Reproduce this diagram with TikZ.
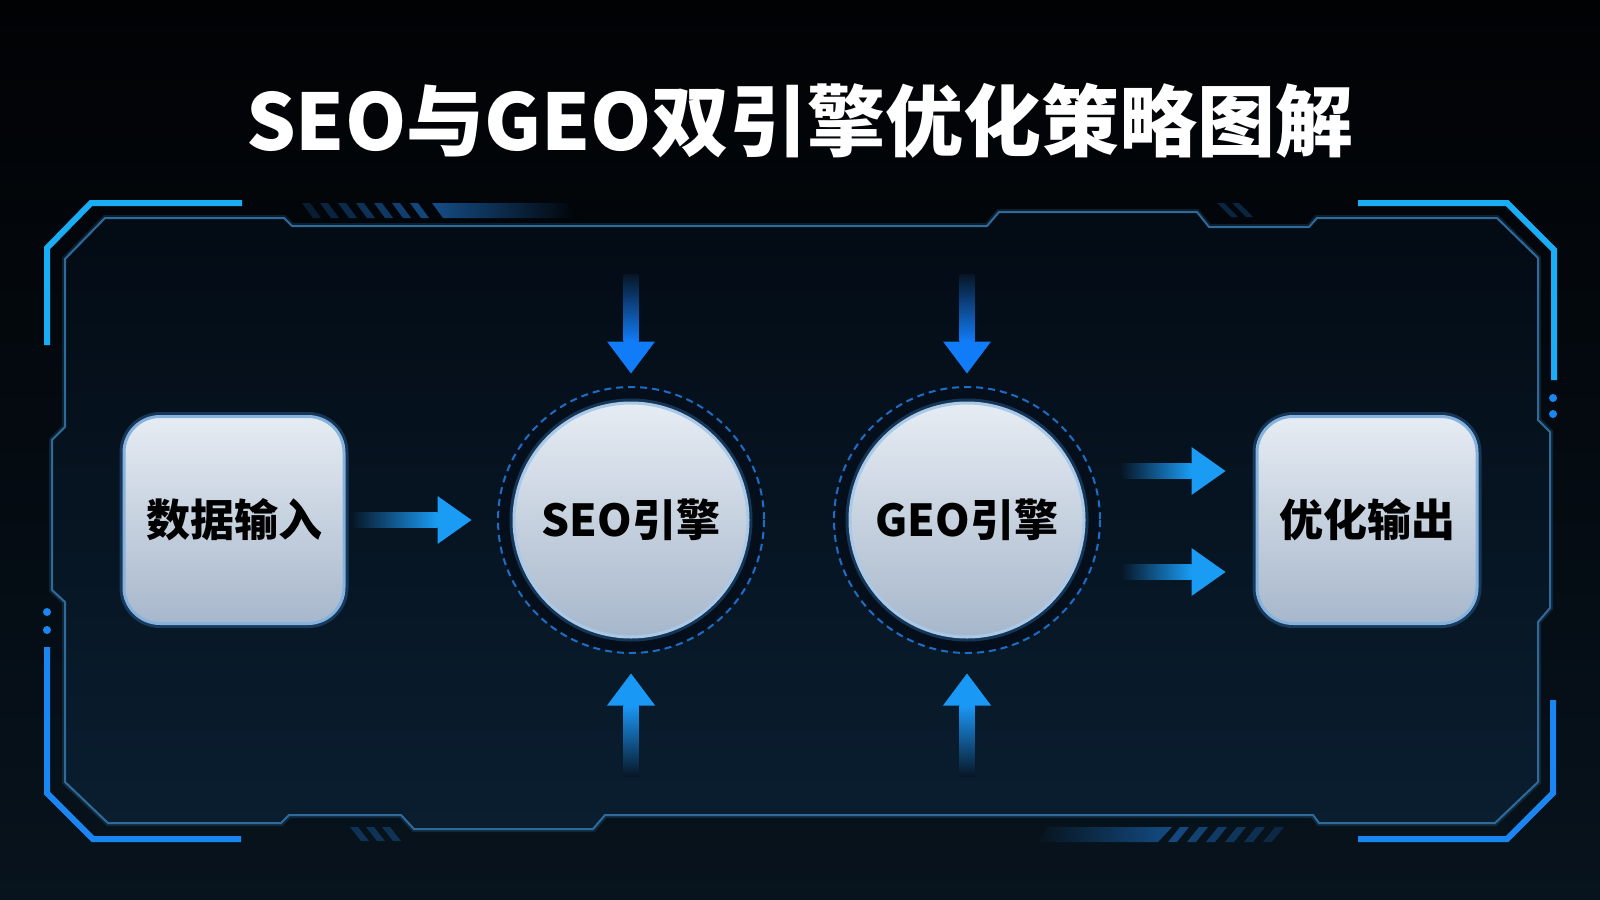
\documentclass[tikz,border=0pt]{standalone}
\usepackage{fontspec}
\setmainfont{Noto Sans CJK SC}
\usetikzlibrary{calc}
\definecolor{bgtop}{HTML}{010204}
\definecolor{bgbot}{HTML}{07131D}
\definecolor{paneltop}{HTML}{030B14}
\definecolor{panelbot}{HTML}{0A1E30}
\definecolor{frameline}{HTML}{2E6B9B}
\definecolor{brightA}{HTML}{18ADF4}
\definecolor{brightB}{HTML}{1A86F2}
\definecolor{hatch}{HTML}{185A9E}
\definecolor{arrD}{HTML}{117CF7}
\definecolor{arrU}{HTML}{1A98F6}
\definecolor{arrR}{HTML}{1A9CF5}
\definecolor{arrbg}{HTML}{071626}
\definecolor{cardtop}{HTML}{E6ECF3}
\definecolor{cardbot}{HTML}{A7B7CB}
\definecolor{cardedge}{HTML}{86B2DE}
\definecolor{cardglow}{HTML}{2A64A0}
\definecolor{ring}{HTML}{1D6DC6}
\definecolor{halo}{HTML}{040F1B}
\newcommand\myArrR[2]{%
  \shade[left color=arrbg,right color=arrR] ($(#1)+(0,-7.5)$) rectangle ($(#2)+(-34,7.5)$);
  \fill[arrR] ($(#2)+(-34,-24)$) -- (#2) -- ($(#2)+(-34,24)$) -- cycle;}
\newcommand\myArrD[2]{%
  \shade[top color=arrbg,bottom color=arrD] ($(#1)+(-7.5,0)$) rectangle ($(#2)+(7.5,-32)$);
  \fill[arrD] ($(#2)+(-24,-32)$) -- (#2) -- ($(#2)+(24,-32)$) -- cycle;}
\newcommand\myArrU[2]{%
  \shade[bottom color=arrbg,top color=arrU] ($(#1)+(-7.5,0)$) rectangle ($(#2)+(7.5,32)$);
  \fill[arrU] ($(#2)+(-24,32)$) -- (#2) -- ($(#2)+(24,32)$) -- cycle;}
\begin{document}
\begin{tikzpicture}[x=1pt,y=-1pt,
  card/.style={rounded corners=36pt, minimum width=220pt, minimum height=207pt,
    top color=cardtop, bottom color=cardbot, draw=cardedge, line width=3pt,
    preaction={draw=cardglow, line width=9pt, opacity=0.45},
    font=\fontsize{44}{50}\selectfont\bfseries, text=black, inner sep=0pt},
  engine/.style={circle, minimum size=234pt, top color=cardtop, bottom color=cardbot,
    draw=cardedge!70!white, line width=3pt,
    preaction={draw=cardglow, line width=9pt, opacity=0.45},
    font=\fontsize{44}{50}\selectfont\bfseries, text=black, inner sep=0pt},
  dashring/.style={draw=ring, line width=2pt, dash pattern=on 7pt off 5pt},
  brkA/.style={draw=brightA, line width=6pt, line join=miter},
  brkB/.style={draw=brightB, line width=6pt, line join=miter},
  titlefont/.style={font=\fontsize{78}{90}\selectfont\bfseries, text=white}]
\useasboundingbox (0,0) rectangle (1600,899);
\shade[top color=bgtop,bottom color=bgbot] (0,0) rectangle (1600,899);
% panel
\shade[top color=paneltop, bottom color=panelbot, draw=frameline, line width=2pt,
  preaction={draw=frameline, line width=6pt, opacity=0.25}]
  (65,259) -- (105,218) -- (284,218) -- (292,226) -- (987,226) -- (999,212)
  -- (1197,212) -- (1209,227) -- (1309,227) -- (1317,218) -- (1497,218)
  -- (1538,258) -- (1538,420) -- (1550,432) -- (1550,608) -- (1538,622)
  -- (1538,782) -- (1495,823) -- (1319,823) -- (1313,815) -- (605,815)
  -- (593,829) -- (414,829) -- (401,815) -- (289,815) -- (281,823)
  -- (108,823) -- (65,782) -- (65,602) -- (52,590) -- (52,440) -- (65,427) -- cycle;
% bright brackets
\draw[brkA] (242,203) -- (91,203) -- (47,248) -- (47,345);
\draw[brkA] (1358,203) -- (1507,203) -- (1554,250) -- (1554,380);
\draw[brkB] (47,647) -- (47,793) -- (93,839) -- (241,839);
\draw[brkB] (1553,700) -- (1553,793) -- (1507,839) -- (1358,839);
\fill[brightB] (1553,398) circle (4) (1553,414) circle (4) (47,612) circle (4) (47,630) circle (4);
% hatches
\foreach \i in {0,...,6} {
  \pgfmathsetmacro\hx{302+18*\i}
  \pgfmathtruncatemacro\hp{30+8*\i}
  \fill[hatch!\hp!bgtop] (\hx,203) -- (\hx+8,203) -- (\hx+19,218) -- (\hx+11,218) -- cycle;
}
\shade[left color=hatch!85!bgtop, right color=bgtop] (432,203) -- (566,203) -- (581,218) -- (443,218) -- cycle;
\foreach \hx in {1217,1232}
  \fill[hatch!40!bgtop] (\hx,203) -- (\hx+7,203) -- (\hx+21,217) -- (\hx+14,217) -- cycle;
\foreach \hx in {350,366,382}
  \fill[hatch!45!bgbot] (\hx,827) -- (\hx+8,827) -- (\hx+19,841) -- (\hx+11,841) -- cycle;
\shade[left color=bgbot, right color=hatch!80!bgbot] (1048,827) -- (1172,827) -- (1158,842) -- (1036,842) -- cycle;
\foreach \i in {0,...,5} {
  \pgfmathsetmacro\hx{1180+19*\i}
  \pgfmathtruncatemacro\hp{75-9*\i}
  \fill[hatch!\hp!bgbot] (\hx,827) -- (\hx+9,827) -- (\hx-3,842) -- (\hx-12,842) -- cycle;
}
% title
\node[titlefont] (title) at (800,121) {SEO与GEO双引擎优化策略图解};
% engines
\coordinate (seoC) at (631,520);
\coordinate (geoC) at (967,520);
\foreach \c in {seoC,geoC} {
  \fill[halo] (\c) circle (132);
  \draw[dashring] (\c) circle (133);
}
\node[card] (in) at (234,520) {数据输入};
\node[card] (out) at (1367,520) {优化输出};
\node[engine] (seo) at (seoC) {SEO引擎};
\node[engine] (geo) at (geoC) {GEO引擎};
% arrows
\coordinate (a1s) at ($(in.east)+(6,0)$);
\coordinate (a1e) at ($(seo.west)+(-41,0)$);
\myArrR{a1s}{a1e}
\coordinate (r1e) at ($(out.west)+(-30,-49)$);
\coordinate (r1s) at ($(r1e)+(-104,0)$);
\coordinate (r2e) at ($(out.west)+(-30,52)$);
\coordinate (r2s) at ($(r2e)+(-104,0)$);
\myArrR{r1s}{r1e}
\myArrR{r2s}{r2e}
\foreach \n in {seo,geo} {
  \coordinate (\n dt) at ($(\n.north)+(0,-28)$);
  \coordinate (\n ds) at ($(\n.north)+(0,-127)$);
  \myArrD{\n ds}{\n dt}
  \coordinate (\n ut) at ($(\n.south)+(0,35)$);
  \coordinate (\n us) at ($(\n.south)+(0,138)$);
  \myArrU{\n us}{\n ut}
}
\end{tikzpicture}
\end{document}
